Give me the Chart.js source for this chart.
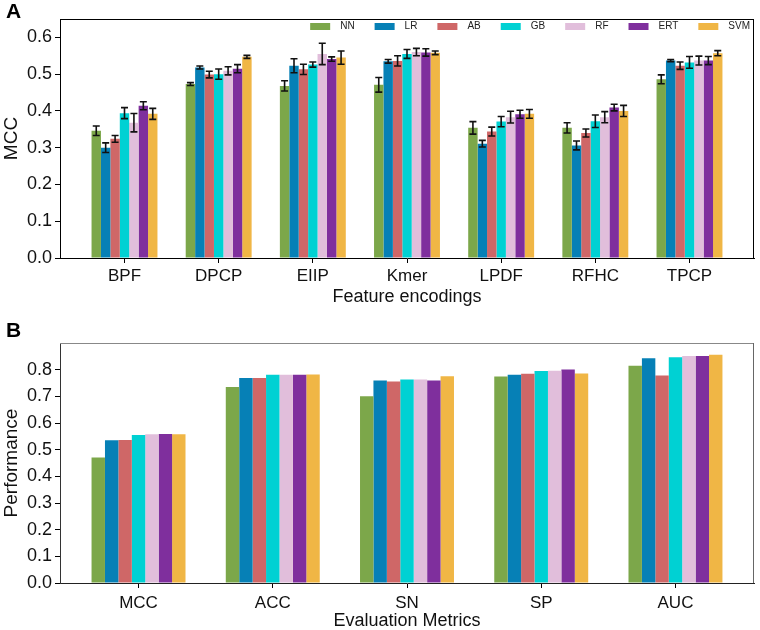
<!DOCTYPE html>
<html>
<head>
<meta charset="utf-8">
<script src="https://cdn.jsdelivr.net/npm/chart.js@4"></script>
<style>
  body { margin: 0; background: #fff; }
  #wrap { position: relative; width: 760px; height: 630px; }
  canvas { display: block; }
  .tag { position: absolute; left: 6px; font: bold 21px "Liberation Sans", Arial, sans-serif; color: #000; }
</style>
</head>
<body>
<div id="wrap">
  <canvas id="chart-a" width="760" height="310"></canvas>
  <canvas id="chart-b" width="760" height="320"></canvas>
  <div class="tag" style="top:-1px">A</div>
  <div class="tag" style="top:318px">B</div>
</div>
<script>
const models = ['NN', 'LR', 'AB', 'GB', 'RF', 'ERT', 'SVM'];
const encodings = ['BPF', 'DPCP', 'EIIP', 'Kmer', 'LPDF', 'RFHC', 'TPCP'];
const metrics = ['MCC', 'ACC', 'SN', 'SP', 'AUC'];

// panel A: MCC per feature encoding (mean +- error)
const nnA  = [0.346, 0.473, 0.468, 0.471, 0.354, 0.354, 0.486];
const lrA  = [0.300, 0.518, 0.523, 0.535, 0.311, 0.306, 0.537];
const abA  = [0.324, 0.499, 0.513, 0.536, 0.344, 0.340, 0.523];
const gbA  = [0.394, 0.500, 0.526, 0.555, 0.371, 0.372, 0.532];
const rfA  = [0.368, 0.509, 0.555, 0.560, 0.383, 0.383, 0.537];
const ertA = [0.414, 0.515, 0.541, 0.559, 0.391, 0.409, 0.537];
const svmA = [0.392, 0.547, 0.545, 0.558, 0.392, 0.400, 0.557];

const nnErr  = [0.013, 0.004, 0.014, 0.020, 0.017, 0.014, 0.012];
const lrErr  = [0.013, 0.004, 0.019, 0.005, 0.009, 0.012, 0.003];
const abErr  = [0.009, 0.009, 0.014, 0.014, 0.012, 0.011, 0.010];
const gbErr  = [0.015, 0.014, 0.007, 0.012, 0.014, 0.017, 0.016];
const rfErr  = [0.025, 0.011, 0.029, 0.010, 0.016, 0.015, 0.012];
const ertErr = [0.011, 0.011, 0.006, 0.010, 0.011, 0.009, 0.011];
const svmErr = [0.015, 0.004, 0.018, 0.005, 0.012, 0.015, 0.007];

// panel B: evaluation metrics
const nnB  = [0.471, 0.735, 0.700, 0.774, 0.815];
const lrB  = [0.535, 0.769, 0.759, 0.781, 0.843];
const abB  = [0.536, 0.769, 0.756, 0.785, 0.778];
const gbB  = [0.555, 0.781, 0.763, 0.795, 0.847];
const rfB  = [0.558, 0.781, 0.763, 0.796, 0.851];
const ertB = [0.559, 0.781, 0.759, 0.801, 0.851];
const svmB = [0.558, 0.782, 0.775, 0.786, 0.856];

const yTicksA = [0, 0.1, 0.2, 0.3, 0.4, 0.5, 0.6];
const yTicksB = [0, 0.1, 0.2, 0.3, 0.4, 0.5, 0.6, 0.7, 0.8];

const colors = ['#7ca74a', '#0680b6', '#cf6767', '#00d1d3', '#e1bedb', '#7f2f9d', '#f0b645'];
const font = '"Liberation Sans", Arial, sans-serif';

// draws the error bars from the scales
const errorBars = {
    id: 'errorBars',
    afterDatasetsDraw(chart, args, opts) {
        if (!opts.errors) return;
        const ctx = chart.ctx;
        const y = chart.scales.y;
        ctx.save();
        ctx.strokeStyle = '#111';
        ctx.lineWidth = 1.6;
        chart.data.datasets.forEach((ds, i) => {
            const meta = chart.getDatasetMeta(i);
            meta.data.forEach((bar, j) => {
                const v = ds.data[j], e = opts.errors[i][j];
                const top = y.getPixelForValue(v + e);
                const bot = y.getPixelForValue(v - e);
                ctx.beginPath();
                ctx.moveTo(bar.x, top); ctx.lineTo(bar.x, bot);
                ctx.moveTo(bar.x - 3.5, top); ctx.lineTo(bar.x + 3.5, top);
                ctx.moveTo(bar.x - 3.5, bot); ctx.lineTo(bar.x + 3.5, bot);
                ctx.stroke();
            });
        });
        ctx.restore();
    }
};

// top and right spines
const frame = {
    id: 'frame',
    afterDatasetsDraw(chart, args, opts) {
        const {left, right, top, bottom} = chart.chartArea;
        const ctx = chart.ctx;
        ctx.save();
        ctx.lineWidth = 1;
        ctx.strokeStyle = opts.top || '#000';
        ctx.beginPath(); ctx.moveTo(left, top + 0.5); ctx.lineTo(right, top + 0.5); ctx.stroke();
        ctx.strokeStyle = opts.right || '#000';
        ctx.beginPath(); ctx.moveTo(right - 0.5, top); ctx.lineTo(right - 0.5, bottom); ctx.stroke();
        ctx.restore();
    }
};

// one-row legend inside the plot, top right (like matplotlib ncol=7)
const innerLegend = {
    id: 'innerLegend',
    afterDraw(chart, args, opts) {
        if (!opts.show) return;
        const ctx = chart.ctx;
        const area = chart.chartArea;
        ctx.save();
        ctx.font = '10px ' + font;
        ctx.textBaseline = 'middle';
        const items = chart.data.datasets.map(ds => ({
            text: ds.label, color: ds.backgroundColor, w: ctx.measureText(ds.label).width
        }));
        let x = area.right - 4;
        const y = area.top + 7.5;
        for (let i = items.length - 1; i >= 0; i--) {
            const it = items[i];
            const textX = x - it.w;
            ctx.fillStyle = '#222';
            ctx.fillText(it.text, textX, y);
            ctx.fillStyle = it.color;
            ctx.fillRect(textX - 10 - 20, y - 3.5, 20, 7);
            x = textX - 10 - 20 - 20;
        }
        ctx.restore();
    }
};

function makeDatasets(series) {
    return series.map((d, i) => ({
        label: models[i],
        data: d,
        backgroundColor: colors[i],
        borderWidth: 0,
        categoryPercentage: 0.7,
        barPercentage: 1.0
    }));
}

function makeChart(el, cats, series, cfg) {
    return new Chart(el, {
        type: 'bar',
        data: {
            labels: cats.map((c, i) => i),
            datasets: makeDatasets(series)
        },
        options: {
            responsive: false,
            animation: false,
            layout: { padding: { top: cfg.padTop, right: 6, left: 0, bottom: 0 } },
            plugins: {
                legend: { display: false },
                tooltip: { enabled: false },
                errorBars: { errors: cfg.errors },
                frame: cfg.frame,
                innerLegend: { show: cfg.legend }
            },
            scales: {
                x: {
                    type: 'linear',
                    offset: false,
                    min: -0.35 - 0.05 * (cats.length - 0.3),
                    max: cats.length - 0.65 + 0.05 * (cats.length - 0.3),
                    afterBuildTicks: s => { s.ticks = cats.map((c, i) => ({ value: i })); },
                    afterFit: s => { s.height = cfg.xHeight; },
                    ticks: {
                        callback: v => cats[v],
                        color: '#111',
                        padding: cfg.xTickPad,
                        maxRotation: 0,
                        font: { family: font, size: 17 }
                    },
                    grid: { drawOnChartArea: false, offset: false, tickLength: 5, color: '#000' },
                    border: { color: cfg.frame.bottom, width: 1 },
                    title: {
                        display: true,
                        text: cfg.xTitle,
                        color: '#111',
                        font: { family: font, size: 18, lineHeight: 1 },
                        padding: { top: 0, bottom: cfg.xTitlePad }
                    }
                },
                y: {
                    min: 0,
                    max: cfg.yMax,
                    afterBuildTicks: s => { s.ticks = cfg.yTicks.map(v => ({ value: v })); },
                    afterFit: s => { s.width = 60; },
                    ticks: {
                        callback: v => v.toFixed(1),
                        color: '#111',
                        padding: 3,
                        font: { family: font, size: 18 }
                    },
                    grid: { drawOnChartArea: false, tickLength: 5, color: '#000' },
                    border: { color: cfg.frame.left, width: 1 },
                    title: {
                        display: true,
                        text: cfg.yTitle,
                        color: '#111',
                        font: { family: font, size: 19, lineHeight: 1 },
                        padding: { top: 2, bottom: 0 }
                    }
                }
            }
        },
        plugins: [errorBars, frame, innerLegend]
    });
}

makeChart(document.querySelector('#chart-a'), encodings,
    [nnA, lrA, abA, gbA, rfA, ertA, svmA], {
    padTop: 19, xHeight: 52, xTitlePad: 4, xTickPad: 3, yMax: 0.65, yTicks: yTicksA,
    xTitle: 'Feature encodings', yTitle: 'MCC',
    errors: [nnErr, lrErr, abErr, gbErr, rfErr, ertErr, svmErr],
    frame: { top: '#000', right: '#000', left: '#000', bottom: '#000' },
    legend: true
});

makeChart(document.querySelector('#chart-b'), metrics,
    [nnB, lrB, abB, gbB, rfB, ertB, svmB], {
    padTop: 33, xHeight: 47, xTitlePad: 0, xTickPad: 5, yMax: 0.9, yTicks: yTicksB,
    xTitle: 'Evaluation Metrics', yTitle: 'Performance',
    errors: null,
    frame: { top: '#888', right: '#666', left: '#333', bottom: '#222' },
    legend: false
});
</script>
</body>
</html>
